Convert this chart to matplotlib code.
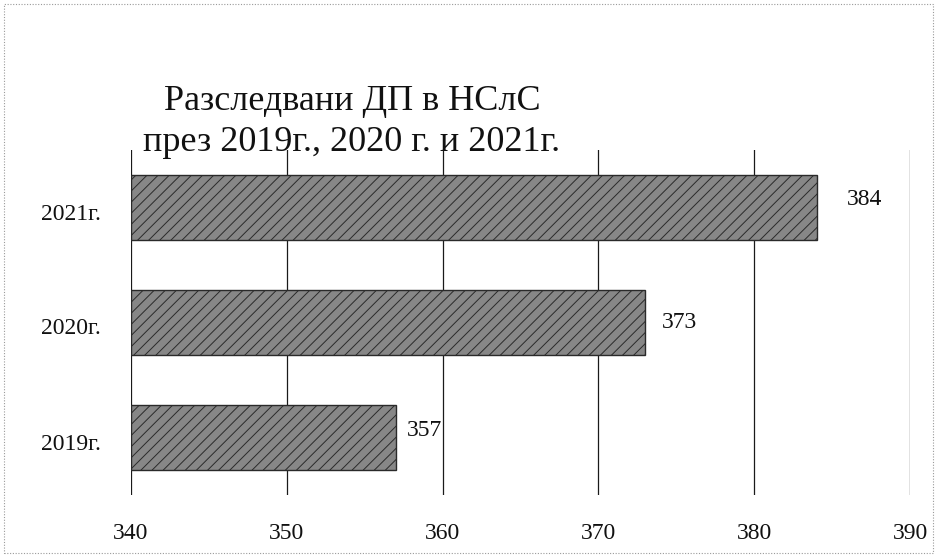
import matplotlib.pyplot as plt
from matplotlib.patches import Rectangle
from matplotlib.transforms import ScaledTranslation

# Data
years = ['2019г.', '2020г.', '2021г.']
cases = [357, 373, 384]
title_lines = ['Разследвани ДП в НСлС', 'през 2019г., 2020 г. и 2021г.']
x_ticks = [340, 350, 360, 370, 380, 390]

plt.rcParams['font.family'] = ['Liberation Serif', 'DejaVu Serif']
plt.rcParams['hatch.color'] = '#bdbdbd'
plt.rcParams['hatch.linewidth'] = 0.7

fig = plt.figure(figsize=(9.37, 5.57), dpi=100)
ax = fig.add_axes([131 / 937, 62 / 557, 779 / 937, 345 / 557])

pos = range(len(years))
ax.barh(pos, [c - 340 for c in cases], left=340, height=0.56,
        color='#878787', edgecolor='#2a2a2a', linewidth=1.0,
        hatch='///', zorder=2)

# value labels (offset in points from each bar end)
offsets = [(8, 5), (12, 0), (22, 6)]
for i, (c, off) in enumerate(zip(cases, offsets)):
    ax.annotate(str(c), xy=(c, i), xytext=off, textcoords='offset points',
                ha='left', va='center', fontsize=17, color='#111111')

ax.set_xlim(340, 390)
ax.set_ylim(-0.5, 2.5)
ax.set_xticks(x_ticks)
ax.set_xticklabels([str(t) for t in x_ticks], fontsize=17)
ax.set_yticks(list(pos))
ax.set_yticklabels(years, fontsize=17)
ax.tick_params(axis='both', length=0, colors='#111111')
ax.tick_params(axis='x', pad=20)
ax.tick_params(axis='y', pad=22)
shift = ScaledTranslation(0, -4 / 100, fig.dpi_scale_trans)
for lbl in ax.get_yticklabels():
    lbl.set_transform(lbl.get_transform() + shift)

ax.grid(axis='x', color='#1a1a1a', linewidth=0.9, zorder=1)
ax.set_axisbelow(True)
for s in ax.spines.values():
    s.set_visible(False)

fig.text(352 / 937, 1 - 122 / 557, '\n'.join(title_lines), ha='center', va='center',
         fontsize=26, color='#111111', linespacing=1.3)

# dotted frame around the whole chart
fig.patches.append(Rectangle((4 / 937, 4 / 557), 929 / 937, 549 / 557,
                             transform=fig.transFigure, fill=False,
                             edgecolor='#9a9a9a', linestyle=(0, (1, 1.5)), linewidth=0.8))

fig.savefig('out.png', dpi=100)
